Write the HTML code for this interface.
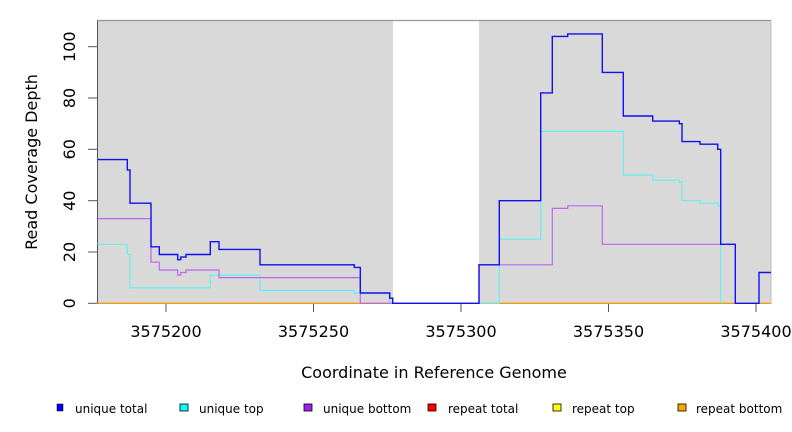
<!DOCTYPE html>
<html><head><meta charset="utf-8"><style>
body{margin:0;background:#fff}
svg{display:block;font-family:"DejaVu Sans","Liberation Sans",sans-serif}
</style></head><body>
<svg width="792" height="432" viewBox="0 0 792 432" xmlns="http://www.w3.org/2000/svg">
<rect x="97.5" y="20.5" width="295.5" height="283" fill="#d9d9d9"/>
<rect x="479" y="20.5" width="292" height="283" fill="#d9d9d9"/>
<line x1="97.5" y1="20.5" x2="771" y2="20.5" stroke="#999" stroke-width="1.2"/>
<line x1="771" y1="20.5" x2="771" y2="303.3" stroke="#bbb" stroke-width="1"/>
<line x1="97.5" y1="20.5" x2="97.5" y2="303.3" stroke="#555" stroke-width="1"/>
<g stroke="#555" stroke-width="1">
<line x1="88" y1="303.3" x2="97.5" y2="303.3"/>
<line x1="88" y1="252" x2="97.5" y2="252"/>
<line x1="88" y1="200.7" x2="97.5" y2="200.7"/>
<line x1="88" y1="149.3" x2="97.5" y2="149.3"/>
<line x1="88" y1="98" x2="97.5" y2="98"/>
<line x1="88" y1="46.7" x2="97.5" y2="46.7"/>
<line x1="166" y1="303.3" x2="166" y2="312"/>
<line x1="313.5" y1="303.3" x2="313.5" y2="312"/>
<line x1="461" y1="303.3" x2="461" y2="312"/>
<line x1="608.5" y1="303.3" x2="608.5" y2="312"/>
<line x1="756" y1="303.3" x2="756" y2="312"/>
</g>
<g font-size="16" fill="#000" text-anchor="middle">
<text transform="translate(75,303.3) rotate(-90)">0</text>
<text transform="translate(75,252) rotate(-90)">20</text>
<text transform="translate(75,200.7) rotate(-90)">40</text>
<text transform="translate(75,149.3) rotate(-90)">60</text>
<text transform="translate(75,98) rotate(-90)">80</text>
<text transform="translate(75,46.7) rotate(-90)">100</text>
<text transform="translate(37,162) rotate(-90)" x="0" dx="0">Read Coverage Depth</text>
<text x="166" y="337">3575200</text>
<text x="313.5" y="337">3575250</text>
<text x="461" y="337">3575300</text>
<text x="608.5" y="337">3575350</text>
<text x="756" y="337">3575400</text>
<text x="434" y="378">Coordinate in Reference Genome</text>
</g>
<line x1="97.5" y1="303.3" x2="771" y2="303.3" stroke="#f39c12" stroke-width="1.3"/>
<polyline fill="none" stroke="#66eeee" stroke-width="1.2" points="97.5,244.3 127.3,244.3 127.3,254.5 130,254.5 130,287.9 210.3,287.9 210.3,275.1 260,275.1 260,290.5 354.3,290.5 354.3,293 389.7,293 389.7,303.3 499.3,303.3 499.3,239.1 540.7,239.1 540.7,131.4 623.3,131.4 623.3,175 652.7,175 652.7,180.1 679.3,180.1 679.3,182 682,182 682,200.7 700,200.7 700,203.2 717.7,203.2 717.7,205.8 720.7,205.8 720.7,303.3"/>
<polyline fill="none" stroke="#bb66ee" stroke-width="1.2" points="97.5,218.6 151,218.6 151,262.2 159.3,262.2 159.3,270 177.7,270 177.7,275.1 180.7,275.1 180.7,272.5 186,272.5 186,270 219,270 219,277.6 360.3,277.6 360.3,303.3 479,303.3 479,264.8 552.3,264.8 552.3,208.4 567.7,208.4 567.7,205.8 602.3,205.8 602.3,244.3 735.3,244.3"/>
<polyline fill="none" stroke="#1010f0" stroke-width="1.4" points="97.5,159.6 127.3,159.6 127.3,169.9 130,169.9 130,203.2 151,203.2 151,246.8 159.3,246.8 159.3,254.5 177.7,254.5 177.7,259.7 180.7,259.7 180.7,257.1 186,257.1 186,254.5 210.3,254.5 210.3,241.7 219,241.7 219,249.4 260,249.4 260,264.8 354.3,264.8 354.3,267.4 360.3,267.4 360.3,293 389.7,293 389.7,298.2 392.7,298.2 392.7,303.3 479,303.3 479,264.8 499.3,264.8 499.3,200.7 540.7,200.7 540.7,92.9 552.3,92.9 552.3,36.4 567.7,36.4 567.7,33.9 602.3,33.9 602.3,72.4 623.3,72.4 623.3,116 652.7,116 652.7,121.1 679.3,121.1 679.3,123.7 682,123.7 682,141.6 700,141.6 700,144.2 717.7,144.2 717.7,149.3 720.7,149.3 720.7,244.3 735.3,244.3 735.3,303.3 759,303.3 759,272.5 771,272.5"/>
<g font-size="12" fill="#000">
<rect x="57" y="404" width="6" height="7" fill="#0000ff" stroke="#000" stroke-width="0.5"/>
<text x="75" y="413">unique total</text>
<rect x="180" y="404" width="8" height="7" fill="#00ffff" stroke="#000" stroke-width="0.8"/>
<text x="199" y="413">unique top</text>
<rect x="304" y="404" width="8" height="7" fill="#a020f0" stroke="#000" stroke-width="0.8"/>
<text x="323" y="413">unique bottom</text>
<rect x="428" y="404" width="8" height="7" fill="#ff0000" stroke="#000" stroke-width="0.8"/>
<text x="448" y="413">repeat total</text>
<rect x="553" y="404" width="8" height="7" fill="#ffff00" stroke="#000" stroke-width="0.8"/>
<text x="572" y="413">repeat top</text>
<rect x="678" y="404" width="8" height="7" fill="#ffa500" stroke="#000" stroke-width="0.8"/>
<text x="696" y="413">repeat bottom</text>
</g>
</svg>
</body></html>
